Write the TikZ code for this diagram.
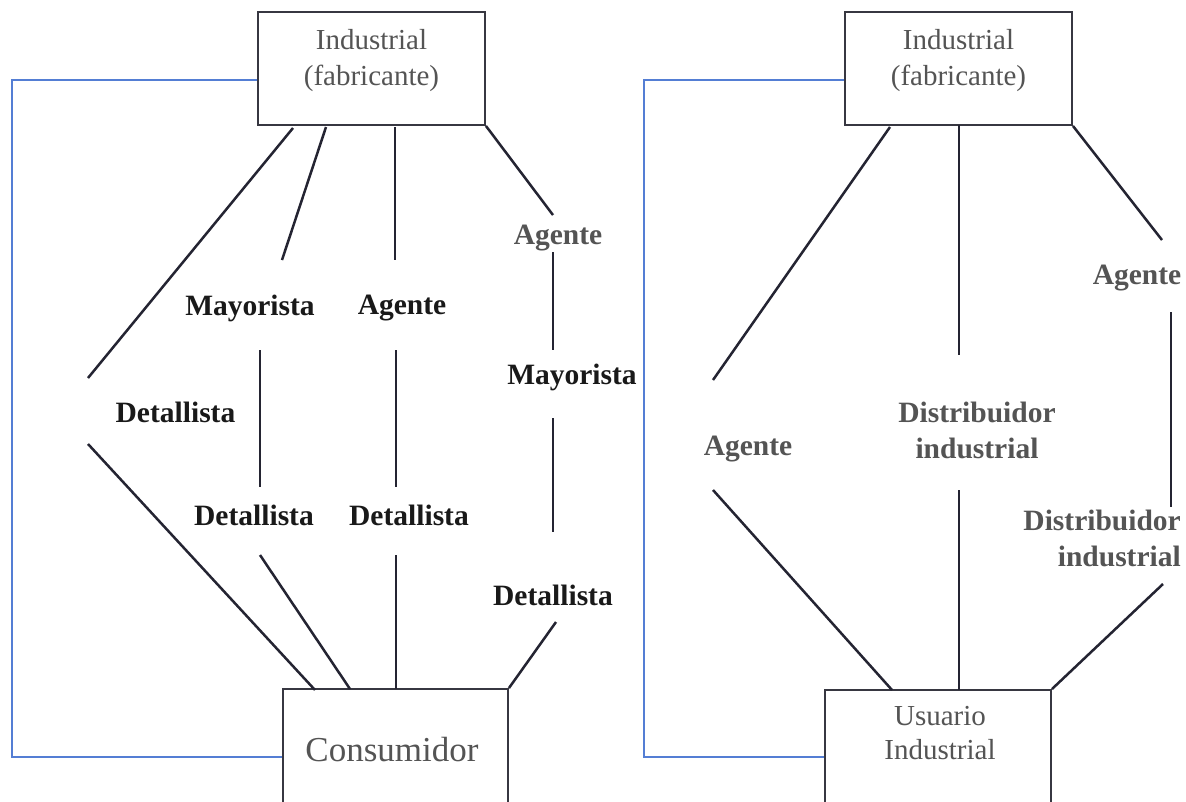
\documentclass[tikz,border=0pt]{standalone}
\usepackage{fontspec}
\setmainfont{Liberation Serif}
\definecolor{linkblue}{RGB}{84,126,212}
\definecolor{ink}{RGB}{36,36,50}
\definecolor{boxline}{RGB}{55,55,65}
\definecolor{greytext}{RGB}{84,84,84}
\tikzset{
  box/.style={draw=boxline, line width=1.9pt, inner sep=0pt},
  chan/.style={draw=ink, line width=2.5pt},
  ret/.style={draw=linkblue, line width=1.3pt},
  lab/.style={font=\fontsize{29.5}{36}\selectfont\bfseries, text=black!90, inner sep=0pt, align=center},
  glab/.style={lab, text=greytext},
  boxtext/.style={font=\fontsize{29}{36}\selectfont, text=greytext, inner sep=0pt, align=center}
}
\begin{document}
\begin{tikzpicture}[x=1pt,y=-1pt]
\useasboundingbox (0,0) rectangle (1186,801);
\fill[white] (0,0) rectangle (1186,801);

% ---------------- consumer goods channels ----------------
\node[box, minimum width=227pt, minimum height=113pt] (tl) at (371.5,68.5) {};
\node[boxtext] (tlt) at (371.5,61) {Industrial\\(fabricante)};
\node[box, minimum width=225pt, minimum height=141pt] (bl) at (395.5,759.5) {};
\node[boxtext, font=\fontsize{35}{40}\selectfont] (blt) at (392,750) {Consumidor};

% intermediaries
\node[lab] (d1) at (175.5,412) {Detallista};
\node[lab] (m2) at (250,308) {Mayorista};
\node[lab] (d2) at (254,515) {Detallista};
\node[lab] (a3) at (402,308) {Agente};
\node[lab] (d3) at (409,515) {Detallista};
\node[glab] (a4) at (558,238) {Agente};
\node[lab] (m4) at (572,377) {Mayorista};
\node[lab] (d4) at (553,595) {Detallista};

% free ends of the channel segments
\coordinate (c1a) at (293,128);  \coordinate (c1b) at (88,378);
\coordinate (c1c) at (88,444);   \coordinate (c1d) at (315,690);
\coordinate (c2a) at (326,127);  \coordinate (c2b) at (282,260);
\coordinate (c2c) at (260,350);  \coordinate (c2d) at (260,487);
\coordinate (c2e) at (260,555);  \coordinate (c2f) at (350,689);
\coordinate (c3a) at (395,127);  \coordinate (c3b) at (395,260);
\coordinate (c3c) at (396,350);  \coordinate (c3d) at (396,487);
\coordinate (c3e) at (396,555);  \coordinate (c3f) at (396,689);
\coordinate (c4b) at (553,215);
\coordinate (c4c) at (553,252);  \coordinate (c4d) at (553,350);
\coordinate (c4e) at (553,418);  \coordinate (c4f) at (553,532);
\coordinate (c4g) at (556,622);

\draw[chan] (c1a) -- (c1b);
\draw[chan] (c1c) -- (c1d);
\draw[chan] (c2a) -- (c2b);
\draw[chan] (c2c) -- (c2d);
\draw[chan] (c2e) -- (c2f);
\draw[chan] (c3a) -- (c3b);
\draw[chan] (c3c) -- (c3d);
\draw[chan] (c3e) -- (c3f);
\draw[chan] (tl.south east) -- (c4b);
\draw[chan] (c4c) -- (c4d);
\draw[chan] (c4e) -- (c4f);
\draw[chan] (c4g) -- (bl.north east);

% direct channel
\coordinate (lr1) at (12,80);
\coordinate (lr2) at (12,757);
\draw[ret] (tl.west |- lr1) -- (lr1) -- (lr2) -- (bl.west |- lr2);

% ---------------- industrial goods channels ----------------
\node[box, minimum width=227pt, minimum height=113pt] (tr) at (958.5,68.5) {};
\node[boxtext] (trt) at (958.5,61) {Industrial\\(fabricante)};
\node[box, minimum width=226pt, minimum height=141pt] (br) at (938,760.5) {};
\node[boxtext, font=\fontsize{29}{34}\selectfont] (brt) at (940,733) {Usuario\\Industrial};

\node[glab] (ra1) at (748,449) {Agente};
\node[glab] (rd2) at (977,430) {Distribuidor\\industrial};
\node[glab] (ra3) at (1137,278) {Agente};
\node[glab, align=right, anchor=east] (rd3) at (1181,538) {Distribuidor\\industrial};

\coordinate (r1a) at (890,127);  \coordinate (r1b) at (713,380);
\coordinate (r1c) at (713,490);  \coordinate (r1d) at (892,690);
\coordinate (r2a) at (959,125);  \coordinate (r2b) at (959,355);
\coordinate (r2c) at (959,490);  \coordinate (r2d) at (959,690);
\coordinate (r3b) at (1162,240);
\coordinate (r3c) at (1171,312); \coordinate (r3d) at (1171,507);
\coordinate (r3e) at (1163,584);

\draw[chan] (r1a) -- (r1b);
\draw[chan] (r1c) -- (r1d);
\draw[chan] (r2a) -- (r2b);
\draw[chan] (r2c) -- (r2d);
\draw[chan] (tr.south east) -- (r3b);
\draw[chan] (r3c) -- (r3d);
\draw[chan] (r3e) -- (br.north east);

% direct channel
\coordinate (rr1) at (644,80);
\coordinate (rr2) at (644,757);
\draw[ret] (tr.west |- rr1) -- (rr1) -- (rr2) -- (br.west |- rr2);
\end{tikzpicture}
\end{document}
